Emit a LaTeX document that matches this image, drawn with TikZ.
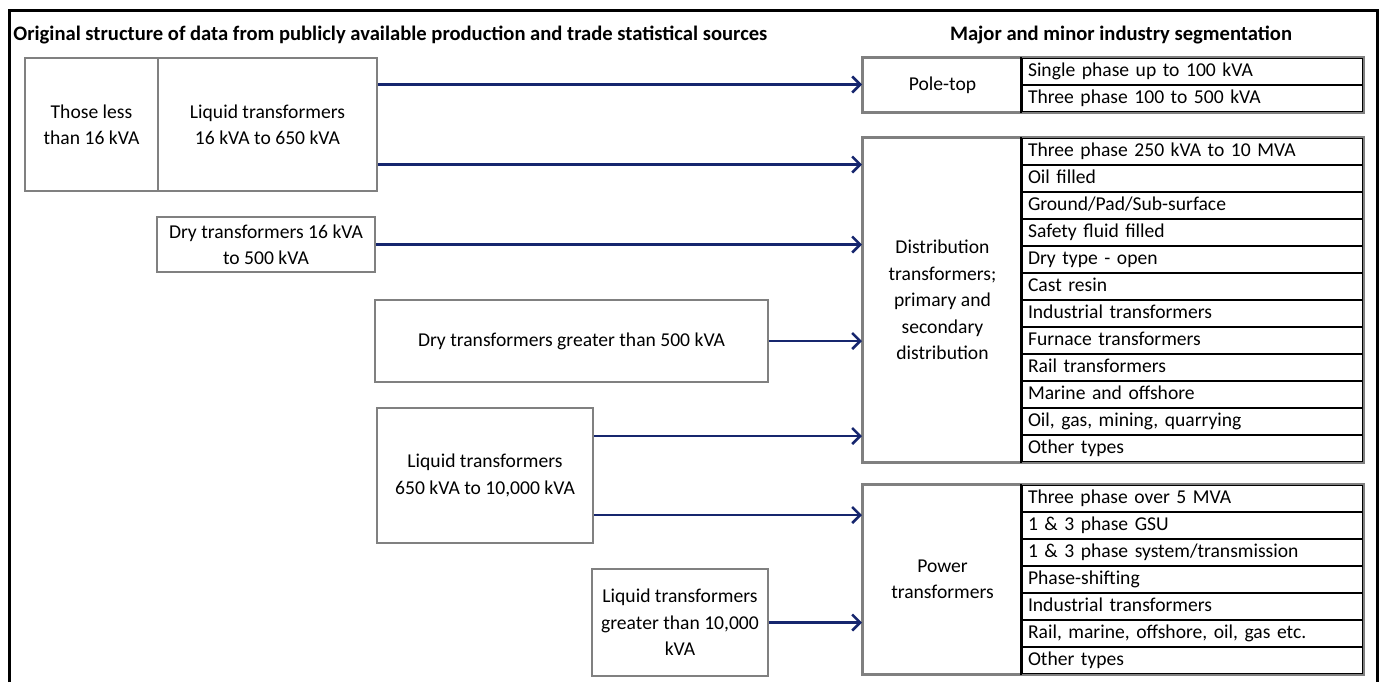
\documentclass[tikz,border=0pt]{standalone}
\usepackage{fontspec}
\setmainfont{Carlito}
\usepackage{tikz}
\usetikzlibrary{arrows.meta}
\definecolor{flowblue}{RGB}{22,38,110}
\definecolor{boxgray}{RGB}{128,128,128}

\begin{document}
\begin{tikzpicture}[x=0.5pt,y=-0.5pt,
  every node/.style={font=\fontsize{9.8}{13.2}\selectfont},
  srcbox/.style={draw=boxgray,line width=1pt,align=center,inner sep=2pt,anchor=north west},
  segbox/.style={draw=boxgray,line width=1pt,align=center,inner sep=2pt,anchor=north west,minimum width=79.5pt},
  segrow/.style={draw=black,line width=1pt,anchor=north west,inner xsep=3pt,inner ysep=0pt,
    text width=164.5pt,align=left,minimum height=13.5pt,text height=7pt,text depth=2pt},
  flow/.style={draw=flowblue,line width=1.3pt,-{Straight Barb[length=4pt,width=8pt]}},
  heading/.style={font=\fontsize{10.3}{13.2}\selectfont\bfseries,inner xsep=0pt}]

\useasboundingbox (0,0) rectangle (1382,682);
\draw[line width=1.5pt] (9,682) -- (9,10) -- (1377,10) -- (1377,682);

\node[heading,anchor=west] (ttl1) at (13,35) {Original structure of data from publicly available production and trade statistical sources};
\node[heading] (ttl2) at (1121,35) {Major and minor industry segmentation};

\node[srcbox,minimum width=66.5pt,minimum height=66.5pt] (less) at (24,57) {Those less\\than 16 kVA};
\node[srcbox,minimum width=109.5pt,minimum height=66.5pt] (liq16) at (157,57) {Liquid transformers\\16 kVA to 650 kVA};
\node[srcbox,minimum width=109pt,minimum height=27.5pt] (dry16) at (156,216) {Dry transformers 16 kVA\\to 500 kVA};
\node[srcbox,minimum width=196.5pt,minimum height=41pt] (dry500) at (374,299) {Dry transformers greater than 500 kVA};
\node[srcbox,minimum width=108pt,minimum height=67.5pt] (liq650) at (376,407) {Liquid transformers\\650 kVA to 10,000 kVA};
\node[srcbox,minimum width=88pt,minimum height=53.5pt] (liq10k) at (591,568) {Liquid transformers\\greater than 10,000\\kVA};

\node[segbox,minimum height=27pt] (pole) at (862,57) {Pole-top};
\foreach \txt [count=\i] in {Single phase up to 100 kVA, Three phase 100 to 500 kVA}
  \node[segrow] (p\i) at (1021,{57+(\i-1)*27}) {\txt};
\draw[boxgray,line width=1pt] (pole.north west) rectangle (p2.south east);
\draw[line width=1pt] (p1.north west) -- (p2.south west);

\node[segbox,minimum height=162pt] (dist) at (862,137) {Distribution\\transformers;\\primary and\\secondary\\distribution};
\foreach \txt [count=\i] in {Three phase 250 kVA to 10 MVA, Oil filled, Ground/Pad/Sub-surface,
    Safety fluid filled, Dry type - open, Cast resin, Industrial transformers, Furnace transformers,
    Rail transformers, Marine and offshore, {Oil, gas, mining, quarrying}, Other types}
  \node[segrow] (d\i) at (1021,{137+(\i-1)*27}) {\txt};
\draw[boxgray,line width=1pt] (dist.north west) rectangle (d12.south east);
\draw[line width=1pt] (d1.north west) -- (d12.south west);

\node[segbox,minimum height=94.5pt] (pow) at (862,484) {Power\\transformers};
\foreach \txt [count=\i] in {Three phase over 5 MVA, 1 \& 3 phase GSU, 1 \& 3 phase system/transmission,
    Phase-shifting, Industrial transformers, {Rail, marine, offshore, oil, gas etc.}, Other types}
  \node[segrow] (w\i) at (1021,{484+(\i-1)*27}) {\txt};
\draw[boxgray,line width=1pt] (pow.north west) rectangle (w7.south east);
\draw[line width=1pt] (w1.north west) -- (w7.south west);

\coordinate (q1) at ([yshift=20pt]liq16.east);
\coordinate (q2) at ([yshift=-20pt]liq16.east);
\coordinate (o1) at ([yshift=19.75pt]liq650.east);
\coordinate (o2) at ([yshift=-19.75pt]liq650.east);

\draw[flow] (q1) -- (q1 -| pole.west);
\draw[flow] (q2) -- (q2 -| dist.west);
\draw[flow] (dry16.east) -- (dry16.east -| dist.west);
\draw[flow] (dry500.east) -- (dry500.east -| dist.west);
\draw[flow] (o1) -- (o1 -| dist.west);
\draw[flow] (o2) -- (o2 -| pow.west);
\draw[flow] (liq10k.east) -- (liq10k.east -| pow.west);
\end{tikzpicture}
\end{document}
